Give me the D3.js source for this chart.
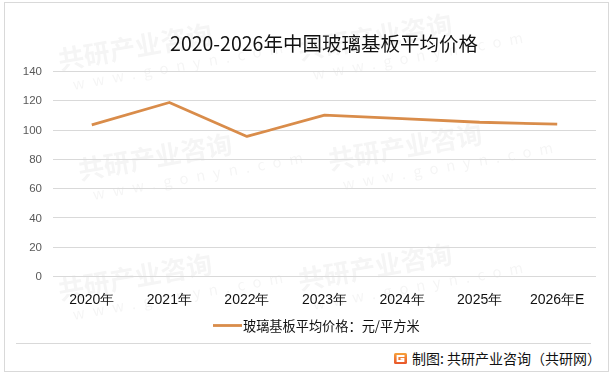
<!DOCTYPE html>
<html>
<head>
<meta charset="utf-8">
<script src="https://cdn.jsdelivr.net/npm/d3@7"></script>
<style>
  body { margin: 0; background: #fff; }
  svg { display: block; font-family: "Microsoft YaHei", "Noto Sans CJK SC", sans-serif; }
</style>
</head>
<body>
<div id="chart"></div>
<script>
// Chart data
const years = ["2020年", "2021年", "2022年", "2023年", "2024年", "2025年", "2026年E"];
const prices = [103.2, 118.5, 95.3, 109.8, 107.5, 105, 103.7];
const yTicks = [0, 20, 40, 60, 80, 100, 120, 140];
const title = "2020-2026年中国玻璃基板平均价格";
const seriesName = "玻璃基板平均价格：元/平方米";
const source = "制图: 共研产业咨询（共研网）";

const W = 615, H = 377;
const plot = { left: 53, right: 596, top: 71, bottom: 276 };

const svg = d3.select('#chart')
    .append('svg')
    .attr('width', W)
    .attr('height', H);

// Outer frame
svg.append('rect')
    .attr('x', 4.5).attr('y', 2.5)
    .attr('width', 604).attr('height', 369)
    .attr('fill', '#fff')
    .attr('stroke', '#d9d9d9');

// Faint watermarks (kept inside the frame)
const wmLayer = svg.append('g').attr('fill', '#000').attr('opacity', 0.04);
const wmSpots = [[60, 70], [300, 60], [80, 180], [330, 170], [60, 300], [300, 290]];
wmSpots.forEach(([x, y]) => {
    wmLayer.append('text')
        .attr('x', x).attr('y', y)
        .attr('transform', `rotate(-10,${x},${y})`)
        .attr('font-size', 26).attr('font-weight', 'bold')
        .text('共研产业咨询');
    wmLayer.append('text')
        .attr('x', x + 10).attr('y', y + 22)
        .attr('transform', `rotate(-10,${x},${y})`)
        .attr('font-size', 15).attr('letter-spacing', 8)
        .text('www.gonyn.com');
});

// Scales
const x = d3.scaleBand()
    .domain(years)
    .range([plot.left, plot.right]);

const y = d3.scaleLinear()
    .domain([0, 140])
    .range([plot.bottom, plot.top]);

// Gridlines
svg.append('g')
    .selectAll('line')
    .data(yTicks)
    .join('line')
    .attr('x1', plot.left).attr('x2', plot.right)
    .attr('y1', d => Math.round(y(d)) + 0.5).attr('y2', d => Math.round(y(d)) + 0.5)
    .attr('stroke', '#d9d9d9')
    .attr('stroke-width', 1);

// Y axis labels
const yAxis = svg.append('g')
    .attr('transform', `translate(${plot.left},0)`)
    .call(d3.axisLeft(y).tickValues(yTicks).tickSize(0).tickPadding(11));
yAxis.select('.domain').remove();
yAxis.selectAll('text')
    .attr('font-size', 11.5)
    .attr('fill', '#595959')
    .style('font-family', '"Liberation Sans", Arial, sans-serif');

// X axis labels
const xAxis = svg.append('g')
    .attr('transform', `translate(0,${plot.bottom})`)
    .call(d3.axisBottom(x).tickSize(0).tickPadding(18));
xAxis.select('.domain').remove();
xAxis.selectAll('text')
    .attr('font-size', 14)
    .attr('fill', '#111');

// Line
const line = d3.line()
    .x((d, i) => x(years[i]) + x.bandwidth() / 2)
    .y(d => y(d));

svg.append('path')
    .datum(prices)
    .attr('fill', 'none')
    .attr('stroke', '#d98c4a')
    .attr('stroke-width', 2.8)
    .attr('stroke-linejoin', 'round')
    .attr('d', line);

// Title
svg.append('text')
    .attr('x', 324).attr('y', 51)
    .attr('text-anchor', 'middle')
    .attr('font-size', 19.5)
    .attr('fill', '#111')
    .text(title);

// Legend
svg.append('line')
    .attr('x1', 213).attr('x2', 242)
    .attr('y1', 325.5).attr('y2', 325.5)
    .attr('stroke', '#d98c4a')
    .attr('stroke-width', 2.8);
svg.append('text')
    .attr('x', 243).attr('y', 330.5)
    .attr('font-size', 13.2)
    .attr('fill', '#111')
    .text(seriesName);

// Separator
svg.append('line')
    .attr('x1', 16).attr('x2', 591)
    .attr('y1', 343.5).attr('y2', 343.5)
    .attr('stroke', '#d9d9d9');

// Source logo
const grad = svg.append('defs').append('linearGradient')
    .attr('id', 'lg').attr('x1', 0).attr('y1', 0).attr('x2', 0).attr('y2', 1);
grad.append('stop').attr('offset', 0).attr('stop-color', '#f7a23b');
grad.append('stop').attr('offset', 1).attr('stop-color', '#e8542a');
const logo = svg.append('g').attr('transform', 'translate(394,353)');
logo.append('rect')
    .attr('width', 13).attr('height', 11).attr('rx', 1.5)
    .attr('fill', 'url(#lg)');
logo.append('path')
    .attr('d', 'M10.5,3 H3.5 V8 H9.5 V5.8 H6.5')
    .attr('fill', 'none')
    .attr('stroke', '#fff')
    .attr('stroke-width', 1.8);

svg.append('text')
    .attr('x', 412).attr('y', 364)
    .attr('font-size', 14)
    .attr('fill', '#111')
    .text(source);
</script>
</body>
</html>
